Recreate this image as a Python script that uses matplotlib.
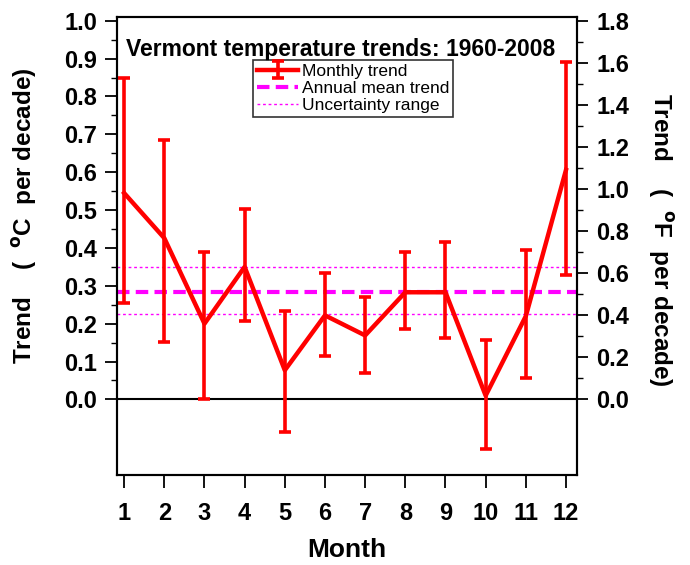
import matplotlib.pyplot as plt
import matplotlib.ticker as mticker
import numpy as np

plt.rcParams['font.family'] = ['Liberation Sans', 'DejaVu Sans']
plt.rcParams['font.weight'] = 'bold'

# Tendencia mensual (oC por decada) e faixa de erro
meses = np.arange(1, 13)
tendencia = [0.545, 0.426, 0.200, 0.350, 0.077, 0.222, 0.169, 0.283, 0.283, 0.010, 0.220, 0.606]
erro_sup = [0.849, 0.685, 0.389, 0.503, 0.233, 0.334, 0.270, 0.389, 0.415, 0.156, 0.394, 0.892]
erro_inf = [0.254, 0.151, 0.000, 0.206, -0.087, 0.114, 0.069, 0.185, 0.161, -0.132, 0.056, 0.328]
media_anual = 0.284
incerteza = [0.225, 0.349]

tendencia = np.array(tendencia)
yerr = [tendencia - np.array(erro_inf), np.array(erro_sup) - tendencia]

fig = plt.figure(figsize=(6.9, 5.65), dpi=100)
ax = fig.add_axes([0.170, 0.159, 0.666, 0.811])

ax.axhline(0, color='black', lw=1.5, zorder=1)
h1 = ax.errorbar(meses, tendencia, yerr=yerr, color='#ff0000', lw=3.2, elinewidth=2.6,
                 capsize=4.5, capthick=2.6, label='Monthly trend', zorder=3)
h2 = ax.axhline(media_anual, color='#ff00ff', lw=3, ls=(0, (3, 1.5)), label='Annual mean trend', zorder=2)
h3 = ax.axhline(incerteza[0], color='#ff00ff', lw=1, ls=(0, (2, 2)), label='Uncertainty range', zorder=2)
ax.axhline(incerteza[1], color='#ff00ff', lw=1, ls=(0, (2, 2)), zorder=2)

ax.set_xlim(0.83, 12.27)
ax.set_ylim(-0.2, 1.01)
ax.set_xticks(meses)
ax.set_yticks(np.arange(0, 1.01, 0.1))
ax.yaxis.set_major_formatter(mticker.FormatStrFormatter('%.1f'))
ax.set_yticks(np.arange(0.05, 1.0, 0.1), minor=True)
ax.tick_params(axis='y', which='major', direction='out', length=8.5, width=1.3, labelsize=17, pad=6)
ax.tick_params(axis='y', which='minor', direction='out', length=4.5, width=1.0)
ax.tick_params(axis='x', direction='out', length=9, width=1.3, labelsize=17, pad=10)
for s in ax.spines.values():
    s.set_linewidth(1.5)

ax.set_xlabel('Month', fontsize=19, fontweight='bold', labelpad=10)
ax.set_ylabel('Trend    (  $\\mathbf{^{o}}$C  per decade)', fontsize=17.5, fontweight='bold', va='center')
ax.yaxis.set_label_coords(-0.202, 0.565)

ax.text(0.02, 0.955, 'Vermont temperature trends: 1960-2008', transform=ax.transAxes,
        fontsize=16.5, fontweight='bold', va='top', ha='left')

leg = ax.legend([h1, h2, h3], ['Monthly trend', 'Annual mean trend', 'Uncertainty range'],
                loc='upper left', bbox_to_anchor=(0.296, 0.906), fontsize=12.5, frameon=True,
                fancybox=False, edgecolor='black', borderpad=0.2, handlelength=2.4,
                labelspacing=0.12, borderaxespad=0, handletextpad=0.2)
leg.get_frame().set_linewidth(1.2)
for t in leg.get_texts():
    t.set_fontweight('normal')

# Eixo da direita em oF
ax2 = ax.twinx()
lim = ax.get_ylim()
ax2.set_ylim(lim[0] * 1.8, lim[1] * 1.8)
ax2.set_yticks(np.arange(0, 1.81, 0.2))
ax2.yaxis.set_major_formatter(mticker.FormatStrFormatter('%.1f'))
ax2.set_yticks(np.arange(0.1, 1.8, 0.2), minor=True)
ax2.tick_params(axis='y', which='major', direction='out', length=8, width=1.3, labelsize=17, pad=6)
ax2.tick_params(axis='y', which='minor', direction='out', length=4.5, width=1.0)
ax2.set_ylabel('Trend    (  $\\mathbf{^{o}}$F  per decade)', fontsize=17.5, fontweight='bold',
               rotation=-90, va='center')
ax2.yaxis.set_label_coords(1.183, 0.513)
for s in ax2.spines.values():
    s.set_linewidth(1.5)

fig.savefig('out.png', dpi=100)
